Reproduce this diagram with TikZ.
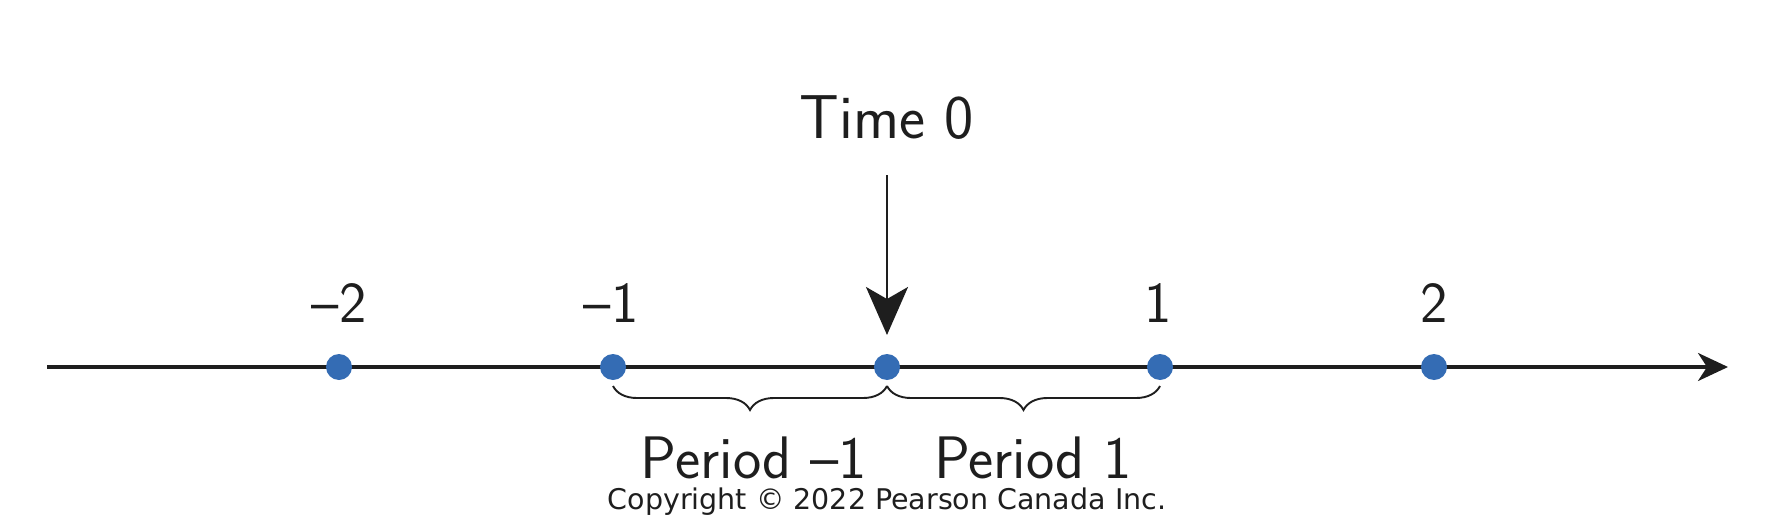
\documentclass[tikz,border=0pt]{standalone}
\usepackage{fontspec}
\newfontfamily\cpfont{DejaVu Sans}
\usetikzlibrary{arrows.meta,decorations.pathreplacing}
\definecolor{dotblue}{RGB}{52,108,180}
\definecolor{ink}{RGB}{30,30,30}
\tikzset{
  dotnode/.style={circle,fill=dotblue,inner sep=0pt,minimum size=26pt},
  ticklabel/.style={anchor=base,inner sep=0pt,text=ink,font=\sffamily\fontsize{58}{58}\selectfont},
  bigtext/.style={anchor=base,inner sep=0pt,text=ink,font=\sffamily\fontsize{62}{62}\selectfont},
  perlabel/.style={anchor=base,inner sep=0pt,text=ink,font=\sffamily\fontsize{60}{60}\selectfont},
  bracestyle/.style={draw=ink,line width=1.9pt,decorate,decoration={brace,mirror,amplitude=24pt,aspect=0.5}},
}
\begin{document}
\begin{tikzpicture}[x=1pt,y=-1pt]
\useasboundingbox (0,0) rectangle (1770,522);
% axis
\coordinate (axstart) at (47,367);
\coordinate (axend) at (1728,367);
\draw[draw=ink,line width=3.2pt,-{Stealth[length=30pt,width=28pt,inset=9pt]}] (axstart) -- (axend);
% dots
\node[dotnode] (dm2) at (339,367) {};
\node[dotnode] (dm1) at (613,367) {};
\node[dotnode] (d0) at (887,367) {};
\node[dotnode] (d1) at (1160,367) {};
\node[dotnode] (d2) at (1434,367) {};
% tick labels
\node[ticklabel] (lm2) at (339,322) {–2};
\node[ticklabel] (lm1) at (611,322) {–1};
\node[ticklabel] (l1) at (1158,322) {1};
\node[ticklabel] (l2) at (1434,322) {2};
% time 0
\node[bigtext] (time) at (887,138) {Time 0};
\coordinate (astart) at (887,175);
\coordinate (atip) at (887,335);
\draw[draw=ink,line width=2.4pt,-{Stealth[length=48pt,width=42pt,inset=12pt]}] (astart) -- (atip);
% braces
\coordinate (b0) at (613,386);
\coordinate (b1) at (887,386);
\coordinate (b2) at (1160,386);
\draw[bracestyle] (b0) -- (b1);
\draw[bracestyle] (b1) -- (b2);
% period labels
\node[perlabel] (pm1) at (754,478) {Period –1};
\node[perlabel] (p1) at (1033,478) {Period 1};
% copyright
\node[anchor=base,inner sep=0pt,text=ink,font=\cpfont\fontsize{28.5}{28.5}\selectfont] (copy) at (887,509) {Copyright © 2022 Pearson Canada Inc.};
\end{tikzpicture}
\end{document}
